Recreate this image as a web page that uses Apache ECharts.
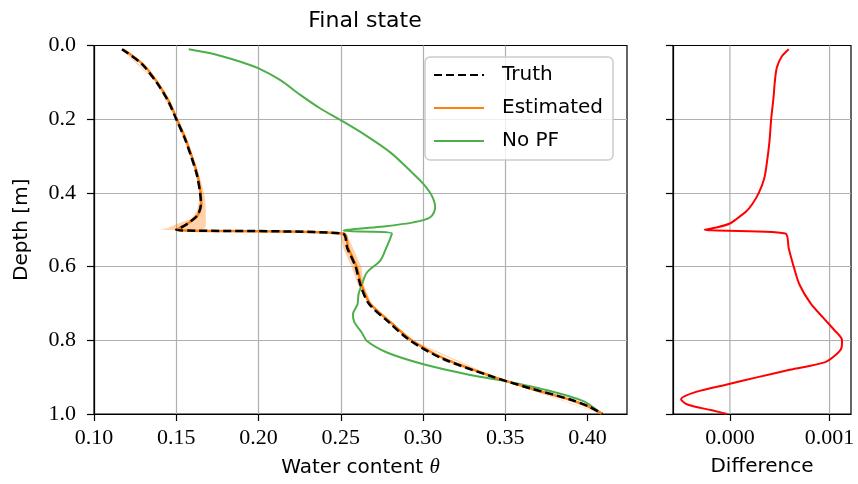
<!DOCTYPE html>
<html>
<head>
<meta charset="utf-8">
<script src="https://cdn.jsdelivr.net/npm/echarts@6/dist/echarts.min.js"></script>
<style>html,body{margin:0;background:#fff}#main{width:858px;height:484px}</style>
</head>
<body>
<div id="main"></div>
<script>
// depth [m] and water content values
const truthDepth = [0.01, 0.05, 0.1, 0.15, 0.2, 0.25, 0.3, 0.35, 0.4, 0.43, 0.46, 0.48, 0.49, 0.5, 0.51, 0.55, 0.6, 0.65, 0.7, 0.75, 0.8, 0.85, 0.9, 0.93, 0.96, 0.98, 1.0];
const truthTheta = [0.117, 0.129, 0.138, 0.145, 0.150, 0.155, 0.159, 0.1625, 0.1645, 0.165, 0.163, 0.158, 0.1545, 0.150, 0.251, 0.254, 0.259, 0.262, 0.267, 0.279, 0.292, 0.312, 0.343, 0.365, 0.389, 0.401, 0.409];
const estTheta = [0.1176, 0.1295, 0.1385, 0.1454, 0.1504, 0.1554, 0.1594, 0.1629, 0.1648, 0.1652, 0.1631, 0.1580, 0.1544, 0.1498, 0.2516, 0.2546, 0.2596, 0.2627, 0.2678, 0.2800, 0.2931, 0.3130, 0.3433, 0.3648, 0.3885, 0.4006, 0.4090];

const bandDepth = [0.01, 0.1, 0.2, 0.3, 0.38, 0.42, 0.45, 0.47, 0.485, 0.495, 0.5, 0.51, 0.55, 0.6, 0.65, 0.7, 0.8, 0.9, 1.0];
const bandLow = [0.1165, 0.1378, 0.1495, 0.1585, 0.1635, 0.1640, 0.1625, 0.159, 0.150, 0.145, 0.1400, 0.2495, 0.2515, 0.2565, 0.2605, 0.2665, 0.2915, 0.3425, 0.4085];
const bandHigh = [0.1175, 0.1388, 0.1505, 0.1598, 0.1658, 0.1677, 0.168, 0.168, 0.168, 0.1675, 0.166, 0.2535, 0.2575, 0.2625, 0.2640, 0.2685, 0.2935, 0.3440, 0.4095];

const noPfDepth = [0.010, 0.023, 0.044, 0.062, 0.094, 0.134, 0.171, 0.202, 0.24, 0.29, 0.34, 0.376, 0.408, 0.44, 0.466, 0.48, 0.492, 0.5, 0.503, 0.51, 0.55, 0.584, 0.616, 0.648, 0.675, 0.702, 0.729, 0.75, 0.78, 0.802, 0.833, 0.865, 0.892, 0.91, 0.9375, 0.965, 0.992, 1.0];
const noPfTheta = [0.1576, 0.1728, 0.1890, 0.2001, 0.2133, 0.2254, 0.2376, 0.2497, 0.2638, 0.2801, 0.2922, 0.3003, 0.3054, 0.3074, 0.3044, 0.2942, 0.2740, 0.2547, 0.2517, 0.2811, 0.2776, 0.2740, 0.2659, 0.2629, 0.2608, 0.2602, 0.2574, 0.2582, 0.2629, 0.2659, 0.2781, 0.3003, 0.3266, 0.3489, 0.3772, 0.3975, 0.4066, 0.409];

const diffDepth = [0.01, 0.03, 0.06, 0.1, 0.14, 0.2, 0.26, 0.32, 0.36, 0.4, 0.43, 0.45, 0.47, 0.483, 0.494, 0.5, 0.51, 0.55, 0.6, 0.65, 0.7, 0.74, 0.77, 0.8, 0.82, 0.84, 0.86, 0.88, 0.9, 0.92, 0.94, 0.96, 0.975, 0.99, 1.0];
const diffValue = [0.00059, 0.00052, 0.000471, 0.00045, 0.000438, 0.000414, 0.000397, 0.00037, 0.000345, 0.00029, 0.000225, 0.000165, 0.00007, 0.0, -0.000135, -0.000253, 0.000556, 0.00059, 0.00064, 0.0007, 0.00081, 0.00094, 0.00104, 0.001125, 0.00112, 0.00106, 0.00095, 0.0006, 0.00028, -0.00003, -0.00034, -0.00049, -0.00042, -0.00018, -0.00003];

const thetaTicks = [0.10, 0.15, 0.20, 0.25, 0.30, 0.35, 0.40];
const diffTicks = [0.000, 0.001];

const chartDom = document.getElementById('main');
const myChart = echarts.init(chartDom);

const sans = "'DejaVu Sans', sans-serif";
const serif = "'Liberation Serif', serif";
const pairs = (xs, ys) => xs.map((x, i) => [x, ys[i]]);

const frame = { show: true, onZero: false, lineStyle: { color: '#000', width: 1.2 } };
const ticks = { show: true, length: 7, lineStyle: { color: '#000', width: 1.2 } };
const gridLine = { show: true, showMinLine: false, showMaxLine: false, lineStyle: { color: '#b0b0b0', width: 1.2 } };
const tickFont = { fontFamily: serif, fontSize: 22, color: '#000' };
const nameFont = { fontFamily: sans, fontSize: 20, color: '#000' };

const option = {
  animation: false,
  backgroundColor: '#fff',
  title: {
    text: 'Final state',
    left: 360,
    top: 5,
    textAlign: 'center',
    textStyle: { fontFamily: sans, fontSize: 22, fontWeight: 'normal', color: '#000' }
  },
  legend: {
    data: ['Truth', 'Estimated', 'No PF'],
    orient: 'vertical',
    left: 425,
    top: 57,
    itemWidth: 50,
    itemHeight: 20,
    itemGap: 13,
    padding: [8, 10, 9, 8],
    borderColor: '#cccccc',
    borderWidth: 1.5,
    borderRadius: 5,
    backgroundColor: 'rgba(255,255,255,0.8)',
    itemStyle: { opacity: 0 },
    textStyle: { fontFamily: sans, fontSize: 20, color: '#000', padding: [0, 0, 0, 13] }
  },
  grid: [
    { left: 94, right: 231, top: 45.5, bottom: 70, show: true, borderColor: '#000', borderWidth: 1.2 },
    { left: 673, right: 7, top: 45.5, bottom: 70, show: true, borderColor: '#000', borderWidth: 1.2 }
  ],
  xAxis: [
    {
      type: 'value', gridIndex: 0, min: 0.10, max: 0.424, interval: 0.05,
      name: 'Water content {t|θ}', nameLocation: 'middle', nameGap: 43,
      nameTextStyle: Object.assign({}, nameFont, {
        rich: { t: { fontFamily: serif, fontStyle: 'italic', fontSize: 21, color: '#000' } }
      }),
      axisLine: frame,
      axisTick: Object.assign({}, ticks, { customValues: thetaTicks }),
      axisLabel: Object.assign({}, tickFont, { margin: 13, customValues: thetaTicks, formatter: v => v.toFixed(2) }),
      splitLine: Object.assign({}, gridLine, { showMinLine: true })
    },
    {
      type: 'value', gridIndex: 1, min: -0.000571, max: 0.001215,
      name: 'Difference', nameLocation: 'middle', nameGap: 43, nameTextStyle: nameFont,
      axisLine: frame,
      axisTick: Object.assign({}, ticks, { customValues: diffTicks }),
      axisLabel: Object.assign({}, tickFont, { margin: 13, customValues: diffTicks, formatter: v => v.toFixed(3) }),
      splitLine: { show: false }
    }
  ],
  yAxis: [
    {
      type: 'value', gridIndex: 0, min: 0, max: 1, interval: 0.2, inverse: true,
      name: 'Depth [m]', nameLocation: 'middle', nameGap: 62, nameTextStyle: nameFont,
      axisLine: frame, axisTick: ticks,
      axisLabel: Object.assign({}, tickFont, { margin: 18, formatter: v => v.toFixed(1) }),
      splitLine: gridLine
    },
    {
      type: 'value', gridIndex: 1, min: 0, max: 1, interval: 0.2, inverse: true,
      axisLine: frame, axisTick: ticks,
      axisLabel: { show: false },
      splitLine: gridLine
    }
  ],
  series: [
    {
      name: 'band',
      type: 'custom',
      xAxisIndex: 0, yAxisIndex: 0,
      silent: true,
      data: pairs(bandLow, bandDepth),
      encode: { x: 0, y: 1 },
      renderItem: function (params, api) {
        if (params.dataIndex !== 0) return;
        const pts = [];
        for (let i = 0; i < bandDepth.length; i++) pts.push(api.coord([bandLow[i], bandDepth[i]]));
        for (let i = bandDepth.length - 1; i >= 0; i--) pts.push(api.coord([bandHigh[i], bandDepth[i]]));
        return { type: 'polygon', shape: { points: pts, smooth: 0 }, style: { fill: 'rgba(255,127,14,0.35)' } };
      }
    },
    {
      name: 'No PF', type: 'line', xAxisIndex: 0, yAxisIndex: 0,
      data: pairs(noPfTheta, noPfDepth),
      showSymbol: false, symbol: 'none', smooth: 0.3,
      lineStyle: { color: '#4daf4a', width: 2 }, itemStyle: { color: '#4daf4a' }
    },
    {
      name: 'Estimated', type: 'line', xAxisIndex: 0, yAxisIndex: 0,
      data: pairs(estTheta, truthDepth),
      showSymbol: false, symbol: 'none', smooth: 0.3,
      lineStyle: { color: '#ff7f0e', width: 2.5 }, itemStyle: { color: '#ff7f0e' }
    },
    {
      name: 'Truth', type: 'line', xAxisIndex: 0, yAxisIndex: 0,
      data: pairs(truthTheta, truthDepth),
      showSymbol: false, symbol: 'none', smooth: 0.3,
      lineStyle: { color: '#000', width: 2.5, type: [8, 4] }, itemStyle: { color: '#000' }
    },
    // vertical grid lines of the difference panel
    ...diffTicks.map(t => ({
      type: 'line', xAxisIndex: 1, yAxisIndex: 1, silent: true,
      data: [[t, 0], [t, 1]], symbol: 'none',
      lineStyle: { color: '#b0b0b0', width: 1.2 }
    })),
    {
      name: 'Difference', type: 'line', xAxisIndex: 1, yAxisIndex: 1,
      data: pairs(diffValue, diffDepth),
      showSymbol: false, symbol: 'none', smooth: 0.3,
      lineStyle: { color: '#ff0000', width: 2 }, itemStyle: { color: '#ff0000' }
    }
  ]
};

myChart.setOption(option);
</script>
</body>
</html>
